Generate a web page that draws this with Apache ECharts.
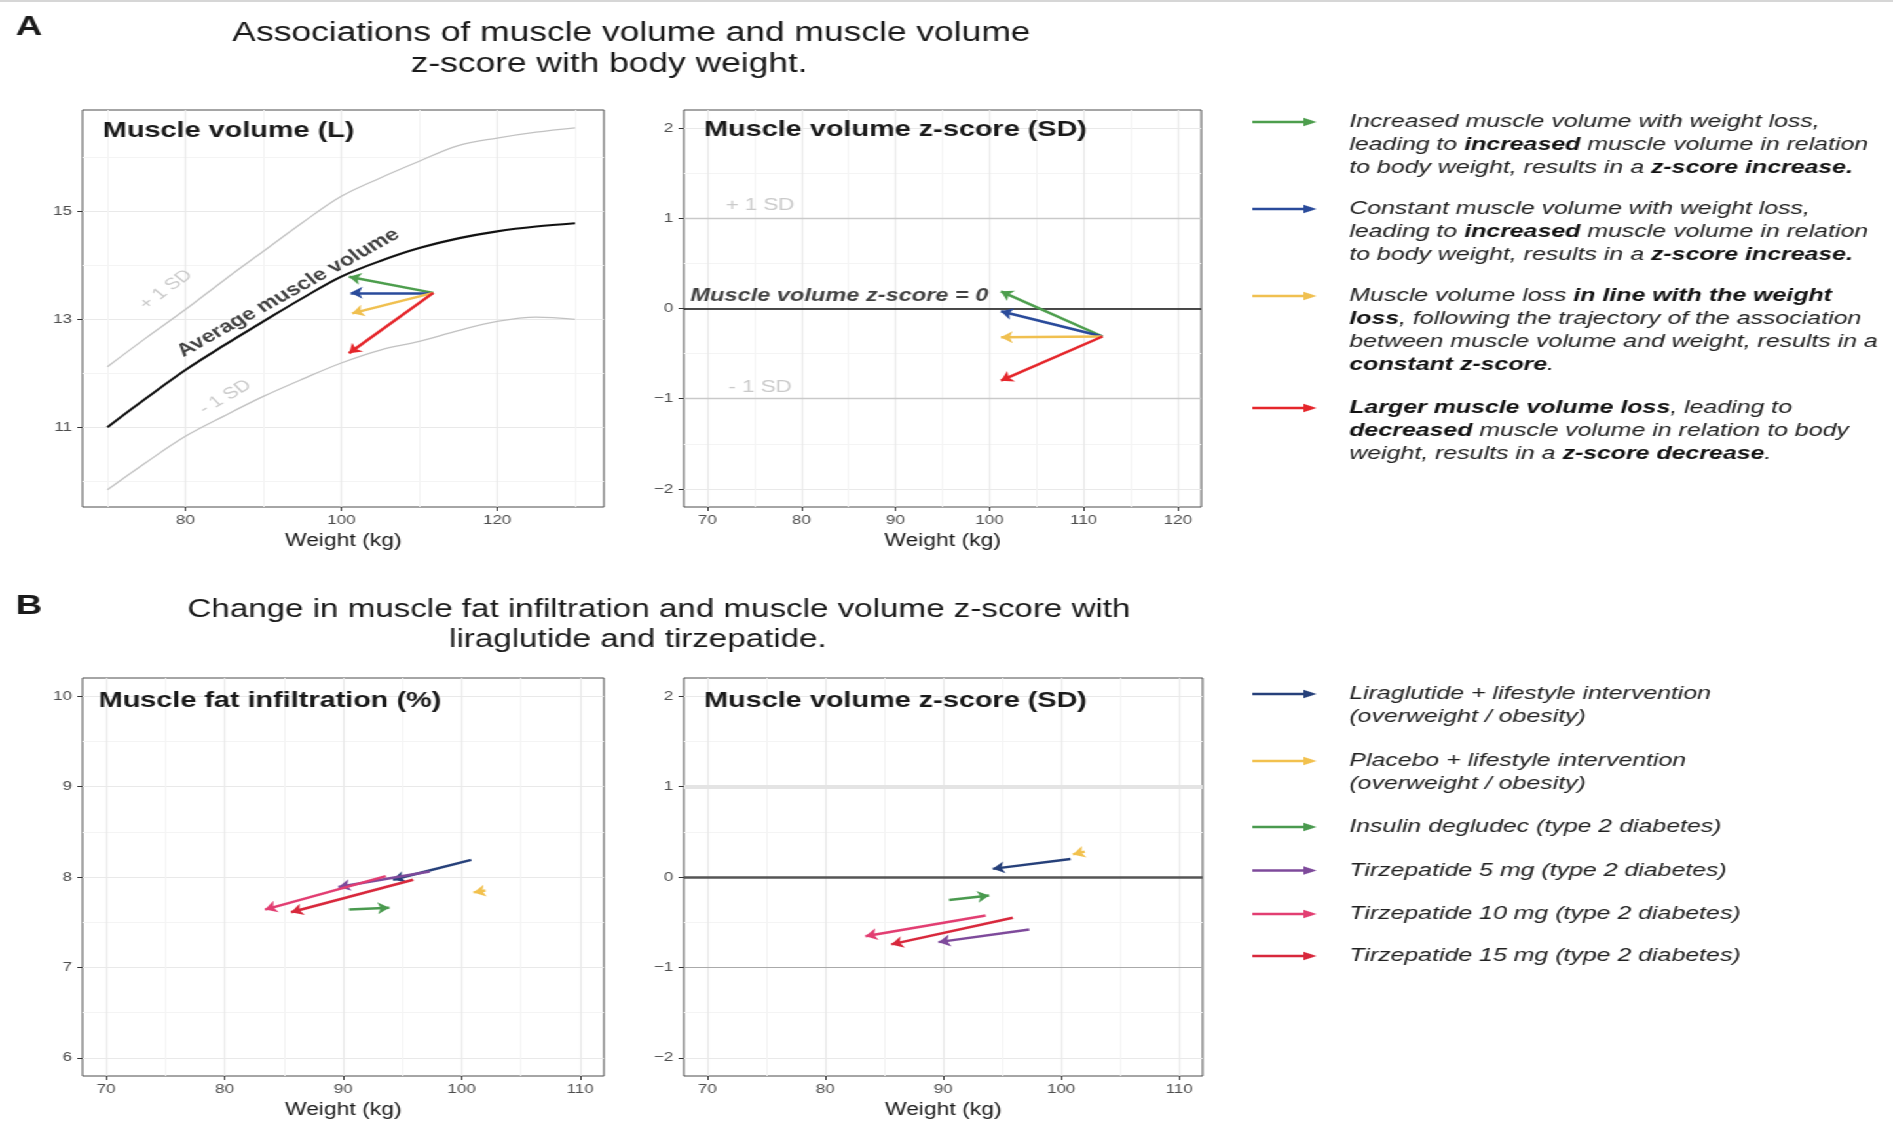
<!DOCTYPE html>
<html>
<head>
<meta charset="utf-8">
<script src="https://cdn.jsdelivr.net/npm/echarts@6/dist/echarts.min.js"></script>
<style>
html,body{margin:0;padding:0;background:#fff;overflow:hidden;width:1893px;height:1132px;}
#chart{width:1445px;height:1132px;transform:scaleX(1.31003);transform-origin:0 0;}
</style>
</head>
<body>
<div id="chart"></div>
<script>
// ================= DATA =================
// Panel A, left: muscle volume (L) vs weight (kg)
const curveWeights   = [70, 75, 80, 85, 90, 95, 100, 105, 110, 115, 120, 125, 130];
const avgVolume      = [11.00, 11.54, 12.06, 12.52, 12.96, 13.39, 13.79, 14.08, 14.32, 14.50, 14.63, 14.72, 14.78];
const plus1SDVolume  = [12.12, 12.66, 13.18, 13.73, 14.26, 14.79, 15.28, 15.62, 15.93, 16.22, 16.36, 16.47, 16.55];
const minus1SDVolume = [9.84, 10.35, 10.83, 11.21, 11.57, 11.89, 12.19, 12.43, 12.59, 12.79, 12.96, 13.04, 13.00];

// Scenario arrows (green, blue, yellow, red)
const scenarioStartWeight  = 111.8;
const scenarioStartVolume  = 13.49;
const scenarioEndWeight    = [101.0, 101.2, 101.4, 101.0];
const scenarioEndVolume    = [13.79, 13.49, 13.11, 12.37];
const scenarioStartWeightZ = 112.0;
const scenarioStartZ       = -0.31;
const scenarioEndWeightZ   = [101.2, 101.2, 101.2, 101.2];
const scenarioEndZ         = [0.19, -0.03, -0.32, -0.80];

// Panel B: treatments
const treatments  = ['Liraglutide', 'Placebo', 'Insulin degludec', 'Tirzepatide 5 mg', 'Tirzepatide 10 mg', 'Tirzepatide 15 mg'];
const weightStart = [100.8, 102.0, 90.5, 97.3, 93.6, 95.9];
const weightEnd   = [94.2, 101.0, 93.9, 89.6, 83.4, 85.6];
const fatStart    = [8.19, 7.85, 7.64, 8.06, 8.01, 7.97];
const fatEnd      = [7.97, 7.83, 7.66, 7.89, 7.64, 7.61];
const zStart      = [0.20, 0.28, -0.255, -0.58, -0.425, -0.45];
const zEnd        = [0.09, 0.25, -0.205, -0.72, -0.654, -0.745];

// Reference lines (z-score)
const zRefLines = [1, 0, -1];

// Tick labels
const a1XTicks = [80, 100, 120];          const a1XMinor = [70, 90, 110, 130];
const a1YTicks = [11, 13, 15];            const a1YMinor = [10, 12, 14, 16];
const a2XTicks = [70, 80, 90, 100, 110, 120]; const a2XMinor = [75, 85, 95, 105, 115];
const zTicks   = [-2, -1, 0, 1, 2];       const zMinor   = [-1.5, -0.5, 0.5, 1.5];
const bXTicks  = [70, 80, 90, 100, 110];  const bXMinor  = [75, 85, 95, 105];
const fatTicks = [6, 7, 8, 9, 10];        const fatMinor = [6.5, 7.5, 8.5, 9.5];

// Annotations (text, data position)
const a1Labels    = ['+ 1 SD', 'Average muscle volume', '- 1 SD'];
const a1LabelPos  = [[77.5, 13.55], [93.2, 13.49], [85.1, 11.56]];
const a2Labels    = ['+ 1 SD', '- 1 SD', 'Muscle volume z-score = 0'];
const a2LabelPos  = [[75.6, 1.14], [75.6, -0.87], [68.2, 0.14]];

// Legend texts ([style, text] segments per line)
const legendAText = [
  [[['i','Increased muscle volume with weight loss,']],
   [['i','leading to '],['b','increased'],['i',' muscle volume in relation']],
   [['i','to body weight, results in a '],['b','z-score increase.']]],
  [[['i','Constant muscle volume with weight loss,']],
   [['i','leading to '],['b','increased'],['i',' muscle volume in relation']],
   [['i','to body weight, results in a '],['b','z-score increase.']]],
  [[['i','Muscle volume loss '],['b','in line with the weight']],
   [['b','loss'],['i',', following the trajectory of the association']],
   [['i','between muscle volume and weight, results in a']],
   [['b','constant z-score'],['i','.']]],
  [[['b','Larger muscle volume loss'],['i',', leading to']],
   [['b','decreased'],['i',' muscle volume in relation to body']],
   [['i','weight, results in a '],['b','z-score decrease'],['i','.']]]
];
const legendBText = [
  ['Liraglutide + lifestyle intervention', '(overweight / obesity)'],
  ['Placebo + lifestyle intervention', '(overweight / obesity)'],
  ['Insulin degludec (type 2 diabetes)'],
  ['Tirzepatide 5 mg (type 2 diabetes)'],
  ['Tirzepatide 10 mg (type 2 diabetes)'],
  ['Tirzepatide 15 mg (type 2 diabetes)']
];

// ================= STYLE =================
const FONT = '"Liberation Sans", Arial, Helvetica, sans-serif';
const scenarioColors = ['#4d9e4d', '#2a4b9b', '#f0c050', '#e5262b'];
const treatColors = ['#26407a', '#f2c14e', '#4a9a4f', '#7e4a9b', '#e23e72', '#d8283c'];

const xRanges = [[66.8, 133.7], [67.5, 122.5], [68, 112], [68, 112]];
const yRanges = [[9.52, 16.88], [-2.2, 2.2], [5.8, 10.2], [-2.2, 2.2]];
const xMajor = [a1XTicks, a2XTicks, bXTicks, bXTicks];
const xMinor = [a1XMinor, a2XMinor, bXMinor, bXMinor];
const yMajor = [a1YTicks, zTicks, fatTicks, zTicks];
const yMinor = [a1YMinor, zMinor, fatMinor, zMinor];

const fmt = v => String(v).replace('-', '\u2212');

const grids = [
  {left: 63,  top: 110, width: 398, height: 397},
  {left: 522, top: 110, width: 395, height: 397},
  {left: 63,  top: 678, width: 398, height: 398},
  {left: 522, top: 678, width: 396, height: 398}
].map(g => Object.assign(g, {show: true, borderColor: '#4d4d4d', borderWidth: 1, backgroundColor: '#fff'}));

const xAxes = [], yAxes = [];
for (let i = 0; i < 4; i++) {
  xAxes.push({
    type: 'value', gridIndex: i, min: xRanges[i][0], max: xRanges[i][1], position: 'bottom',
    axisLine: {show: false, onZero: false},
    axisTick: {show: true, length: 4, lineStyle: {color: '#333', width: 1}, customValues: xMajor[i]},
    axisLabel: {customValues: xMajor[i], color: '#4d4d4d', fontSize: 13, margin: 7, fontFamily: FONT, formatter: fmt},
    splitLine: {show: true, lineStyle: {color: '#e9e9e9', width: 1.2}},
    name: 'Weight (kg)', nameLocation: 'middle', nameGap: 25,
    nameTextStyle: {fontSize: 17.5, color: '#1a1a1a', fontFamily: FONT}
  });
  yAxes.push({
    type: 'value', gridIndex: i, min: yRanges[i][0], max: yRanges[i][1], position: 'left',
    axisLine: {show: false, onZero: false},
    axisTick: {show: true, length: 4, lineStyle: {color: '#333', width: 1}, customValues: yMajor[i]},
    axisLabel: {customValues: yMajor[i], color: '#4d4d4d', fontSize: 13, margin: 8, fontFamily: FONT, formatter: fmt},
    splitLine: {show: true, lineStyle: {color: '#e9e9e9', width: 1.2}}
  });
}
for (let i = 0; i < 4; i++) {
  xAxes.push({
    type: 'value', gridIndex: i, min: xRanges[i][0], max: xRanges[i][1], position: 'bottom',
    axisLine: {show: false, onZero: false},
    axisTick: {show: false, customValues: xMinor[i]},
    axisLabel: {show: false},
    splitLine: {show: true, lineStyle: {color: '#f4f4f4', width: 1}}
  });
  yAxes.push({
    type: 'value', gridIndex: i, min: yRanges[i][0], max: yRanges[i][1], position: 'left',
    axisLine: {show: false, onZero: false},
    axisTick: {show: false, customValues: yMinor[i]},
    axisLabel: {show: false},
    splitLine: {show: true, lineStyle: {color: '#f4f4f4', width: 1}}
  });
}

const zip = (a, b) => a.map((v, i) => [v, b[i]]);

function curve(data, color, width) {
  return {type: 'line', xAxisIndex: 0, yAxisIndex: 0, data, smooth: 0.35, symbol: 'none', showSymbol: false,
    silent: true, z: 3, lineStyle: {color, width}};
}
function arrows(idx, coords, colors, width) {
  return {
    type: 'lines', coordinateSystem: 'cartesian2d', xAxisIndex: idx, yAxisIndex: idx,
    symbol: ['none', 'arrow'], symbolSize: 9, silent: true, z: 5,
    lineStyle: {width, opacity: 1, curveness: 0},
    data: coords.map((c, i) => ({coords: c, lineStyle: {color: colors[i], width, opacity: 1}}))
  };
}
function labelSeries(idx, texts, pos, styles) {
  return {
    type: 'scatter', xAxisIndex: idx, yAxisIndex: idx, symbolSize: 1, silent: true, z: 6,
    itemStyle: {color: 'rgba(0,0,0,0)'},
    data: texts.map((t, i) => ({
      value: pos[i],
      label: Object.assign({show: true, formatter: t, position: 'inside', fontFamily: FONT}, styles[i])
    }))
  };
}
function refLines(idx, styles) {
  return {
    type: 'line', xAxisIndex: idx, yAxisIndex: idx, data: [], silent: true, z: 2,
    markLine: {silent: true, symbol: 'none', animation: false, label: {show: false},
      data: zRefLines.map((v, i) => ({yAxis: v, lineStyle: Object.assign({type: 'solid'}, styles[i])}))}
  };
}

const series = [
  curve(zip(curveWeights, plus1SDVolume), '#c2c2c2', 1.3),
  curve(zip(curveWeights, minus1SDVolume), '#c2c2c2', 1.3),
  curve(zip(curveWeights, avgVolume), '#111', 2.1),
  arrows(0, scenarioEndWeight.map((w, i) => [[scenarioStartWeight, scenarioStartVolume], [w, scenarioEndVolume[i]]]), scenarioColors, 2.5),
  labelSeries(0, a1Labels, a1LabelPos, [
    {rotate: 44, color: '#bdbdbd', fontSize: 16},
    {rotate: 36, color: '#111', fontSize: 18, fontWeight: 'bold'},
    {rotate: 37, color: '#bdbdbd', fontSize: 16}
  ]),
  refLines(1, [{color: '#c9c9c9', width: 1.3}, {color: '#111', width: 1.6}, {color: '#c9c9c9', width: 1.3}]),
  arrows(1, scenarioEndWeightZ.map((w, i) => [[scenarioStartWeightZ, scenarioStartZ], [w, scenarioEndZ[i]]]), scenarioColors, 2.5),
  labelSeries(1, a2Labels, a2LabelPos, [
    {color: '#bdbdbd', fontSize: 17},
    {color: '#bdbdbd', fontSize: 17},
    {color: '#111', fontSize: 18, fontWeight: 'bold', fontStyle: 'italic', align: 'left'}
  ]),
  arrows(2, weightStart.map((w, i) => [[w, fatStart[i]], [weightEnd[i], fatEnd[i]]]), treatColors, 2.5),
  refLines(3, [{color: '#e4e4e4', width: 4}, {color: '#555', width: 2.5}, {color: '#aaaaaa', width: 1.2}]),
  arrows(3, weightStart.map((w, i) => [[w, zStart[i]], [weightEnd[i], zEnd[i]]]), treatColors, 2.5)
];

// ================= GRAPHIC TEXT =================
const graphics = [];
graphics.push({type: 'rect', shape: {x: 0, y: 0, width: 1445, height: 2}, style: {fill: '#d6d6d6'}, silent: true});
function txt(x, y, text, st) {
  return {type: 'text', x, y, silent: true, z: 10,
    style: Object.assign({text, fill: '#1a1a1a', fontFamily: FONT, fontSize: 20, align: 'left', textAlign: 'left',
      verticalAlign: 'middle', textVerticalAlign: 'middle'}, st)};
}
graphics.push(txt(12, 27, 'A', {fontSize: 28, fontWeight: 'bold'}));
graphics.push(txt(12, 606, 'B', {fontSize: 28, fontWeight: 'bold'}));
graphics.push(txt(482, 34, 'Associations of muscle volume and muscle volume', {fontSize: 27, align: 'center', textAlign: 'center'}));
graphics.push(txt(465, 65, 'z-score with body weight.', {fontSize: 27, align: 'center', textAlign: 'center'}));
graphics.push(txt(503, 610, 'Change in muscle fat infiltration and muscle volume z-score with', {fontSize: 25.3, align: 'center', textAlign: 'center'}));
graphics.push(txt(487, 640, 'liraglutide and tirzepatide.', {fontSize: 25.3, align: 'center', textAlign: 'center'}));
graphics.push(txt(78.6, 131, 'Muscle volume (L)', {fontSize: 22, fontWeight: 'bold'}));
graphics.push(txt(537.5, 130, 'Muscle volume z-score (SD)', {fontSize: 22, fontWeight: 'bold'}));
graphics.push(txt(75.3, 701, 'Muscle fat infiltration (%)', {fontSize: 22, fontWeight: 'bold'}));
graphics.push(txt(537.5, 701, 'Muscle volume z-score (SD)', {fontSize: 22, fontWeight: 'bold'}));

const richStyles = {
  i: {fontStyle: 'italic', fontWeight: 'normal', fontSize: 19, fontFamily: FONT, fill: '#222', color: '#222'},
  b: {fontStyle: 'italic', fontWeight: 'bold', fontSize: 19, fontFamily: FONT, fill: '#111', color: '#111'}
};
function legendArrow(y, color) {
  return [
    {type: 'line', silent: true, z: 10, shape: {x1: 956, y1: y, x2: 997, y2: y}, style: {stroke: color, lineWidth: 2.6}},
    {type: 'polygon', silent: true, z: 10, shape: {points: [[1005, y], [995, y - 4.2], [995, y + 4.2]]}, style: {fill: color}}
  ];
}
const LEGX = 1030, LH = 23;
const legendAY = [122, 209, 296, 408];
legendAText.forEach((block, bi) => {
  legendArrow(legendAY[bi], scenarioColors[bi]).forEach(g => graphics.push(g));
  block.forEach((segs, li) => {
    const text = segs.map(([s, t]) => '{' + s + '|' + t + '}').join('');
    graphics.push({type: 'text', x: LEGX, y: legendAY[bi] + li * LH, silent: true, z: 10,
      style: {text, rich: richStyles, fontFamily: FONT, fontSize: 19, align: 'left', textAlign: 'left',
        verticalAlign: 'middle', textVerticalAlign: 'middle'}});
  });
});
const legendBY = [694, 761, 827, 870.5, 914, 956];
legendBText.forEach((block, bi) => {
  legendArrow(legendBY[bi], treatColors[bi]).forEach(g => graphics.push(g));
  block.forEach((line, li) => {
    graphics.push(txt(LEGX, legendBY[bi] + li * LH, line, {fontSize: 19, fontStyle: 'italic', fill: '#222'}));
  });
});

const chart = echarts.init(document.getElementById('chart'));
chart.setOption({
  animation: false,
  backgroundColor: '#fff',
  grid: grids,
  xAxis: xAxes,
  yAxis: yAxes,
  series,
  graphic: graphics
});
</script>
</body>
</html>
